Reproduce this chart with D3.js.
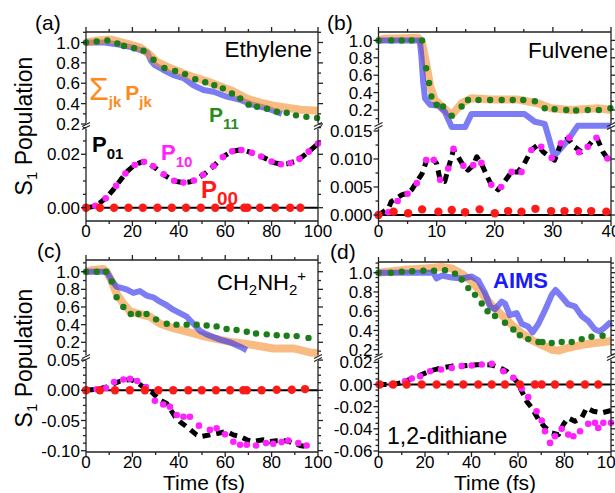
<!DOCTYPE html>
<html><head><meta charset="utf-8">
<script src="https://cdn.jsdelivr.net/npm/d3@7"></script>
<style>body{margin:0;background:#fff}svg{display:block}text{font-family:"Liberation Sans",Arial,Helvetica,sans-serif}</style>
</head><body>
<svg id="c" width="615" height="493"></svg>
<script>
// ---------------- DATA (time fs, population) ----------------
// (a) Ethylene
const ethyleneSum = [[0,1.0],[5,1.02],[10.4,1.03],[17.6,0.99],[23.4,0.95],[27,0.89],[30.5,0.81],[35,0.76],[40.6,0.71],[46.3,0.66],[52.1,0.62],[57.8,0.57],[63.6,0.52],[69.3,0.45],[75.1,0.41],[80.9,0.38],[86.6,0.36],[92.4,0.34],[100,0.33]];
const ethyleneAIMS = [[0,1.0],[8,1.0],[14,0.98],[20.5,0.95],[26.5,0.9],[28,0.82],[29.5,0.78],[33.4,0.73],[37.7,0.68],[42,0.65],[46.3,0.58],[50.6,0.534],[55,0.517],[60.7,0.468],[66.5,0.436],[72.2,0.387],[78,0.354],[84.4,0.30]];
const ethyleneP11 = [[0,1.0],[4.6,1.01],[9.2,1.02],[13.5,0.99],[16.4,0.966],[20.7,0.943],[24.8,0.92],[29.1,0.83],[33.8,0.75],[38.4,0.72],[42.7,0.69],[47.1,0.64],[51.4,0.61],[55.3,0.58],[59,0.55],[62.9,0.5],[66.5,0.45],[70.1,0.39],[73.7,0.37],[78,0.35],[82.3,0.32],[86.5,0.31],[90.5,0.285],[95,0.27],[99.6,0.26]];
const ethyleneP01 = [[0,0],[3,0.0004],[6,0.0018],[9,0.004],[12,0.007],[15,0.0105],[18,0.0138],[21,0.016],[24.5,0.0173],[27,0.0166],[30,0.0148],[33,0.0127],[36,0.011],[39,0.0098],[42,0.0094],[45,0.0097],[48,0.0108],[51,0.0126],[54,0.0148],[57,0.0173],[60,0.0196],[63,0.0211],[66,0.0216],[69,0.0213],[72,0.0204],[75,0.0194],[78,0.0182],[81,0.0169],[84,0.0163],[87,0.0165],[90,0.0173],[93,0.0189],[96,0.021],[100,0.024]];
const ethyleneP10 = [[0,0],[4,0.0007],[8.5,0.0035],[13,0.0082],[17,0.0128],[21,0.016],[25,0.0172],[29,0.0155],[33.5,0.0125],[38,0.0101],[42,0.0094],[46.5,0.0102],[50.5,0.0123],[55,0.0156],[59,0.019],[63,0.0211],[67,0.0216],[71.5,0.0206],[75.5,0.0192],[80,0.0173],[84,0.0163],[88,0.0167],[92,0.0183],[96,0.021],[100,0.024]];
const ethyleneP00 = [[0,0],[6,0],[12.1,0],[18.3,0],[24.5,0],[30.8,0],[37,0],[43.1,0],[49.5,0],[55.7,0],[62.1,0],[68.2,0],[69.6,0],[75,0],[81.5,0],[88,0],[92.4,0]];
// (b) Fulvene
const fulveneSum = [[0,1.0],[1,1.02],[6.8,1.03],[7.5,0.97],[8.3,0.70],[8.9,0.47],[9.7,0.315],[10.9,0.24],[12.6,0.14],[14.3,0.277],[16,0.335],[19.4,0.32],[24,0.32],[27.4,0.277],[29.7,0.22],[33.1,0.2],[37.7,0.22],[40,0.2]];
const fulveneAIMS = [[0,1.0],[7.1,1.0],[7.4,0.8],[7.7,0.51],[8.0,0.335],[8.9,0.26],[10.3,0.25],[11.4,0.18],[12.6,0.0157],[14.9,0.0157],[16.0,0.155],[25.1,0.155],[26.9,0.065],[28.6,0.04],[29.4,0.0134],[30.2,0.0105],[32.6,0.0134],[34.3,0.02],[40,0.02]];
const fulveneP11 = [[0,1.0],[2.2,1.0],[4.0,1.0],[5.7,1.0],[7.5,1.0],[8.2,0.68],[8.7,0.51],[9.1,0.355],[10.0,0.26],[11.1,0.24],[12.6,0.135],[14.3,0.24],[15.4,0.315],[17.2,0.315],[19.2,0.315],[21.2,0.315],[23.1,0.315],[24.9,0.315],[26.9,0.30],[28.6,0.22],[30.3,0.21],[32.3,0.2],[34.0,0.195],[36.0,0.2],[37.9,0.2],[39.9,0.22]];
const fulveneP01 = [[0,0],[1.7,0.0012],[2.2,0.0024],[4.0,0.0036],[5.1,0.0039],[5.7,0.0045],[7.5,0.0074],[8.3,0.0098],[9.1,0.0104],[10.0,0.0092],[10.6,0.0063],[11.4,0.006],[12.0,0.0083],[12.9,0.0116],[13.7,0.0104],[14.6,0.0088],[15.4,0.008],[16.3,0.0089],[16.9,0.0104],[17.7,0.0092],[18.6,0.0071],[19.4,0.0054],[20.6,0.0045],[21.7,0.006],[22.9,0.0077],[24.0,0.0077],[25.1,0.0092],[26.3,0.0116],[27.4,0.0125],[28.3,0.0113],[29.4,0.0104],[30.3,0.0098],[31.4,0.0128],[32.6,0.0137],[33.7,0.0122],[34.9,0.0113],[36.0,0.0122],[36.9,0.0134],[37.7,0.0135],[38.6,0.0113],[39.4,0.0101]];
const fulveneP10 = [[0,0],[1.7,0.0005],[3.3,0.0025],[5.0,0.0038],[6.6,0.0057],[8.2,0.0098],[9.5,0.0098],[10.6,0.0063],[12.0,0.0083],[12.9,0.0118],[14.6,0.0088],[16.3,0.0089],[17.7,0.0093],[19.4,0.0054],[21.1,0.005],[22.9,0.0077],[24.6,0.0077],[26.3,0.0116],[28.0,0.0122],[29.8,0.0102],[31.4,0.0128],[32.8,0.0138],[34.5,0.0112],[36.0,0.0122],[37.5,0.0138],[39.4,0.0101]];
const fulveneP00 = [[0,0],[2.6,0.0006],[5.1,0.0003],[7.5,0.001],[10.3,0.0006],[12.6,0.0009],[14.9,0.0005],[17.4,0.001],[20.0,0.0003],[22.3,0.0007],[24.6,0.0006],[27.0,0.0011],[29.7,0.0007],[32.0,0.0007],[34.3,0.0007],[36.6,0.0007],[39.2,0.0006]];
// (c) CH2NH2+
const methSum = [[0,1.0],[3,1.02],[7.5,1.03],[8.9,1.0],[11.1,0.89],[13.2,0.75],[16.1,0.64],[19,0.55],[23.3,0.52],[27.6,0.49],[31.9,0.41],[37.6,0.36],[43.4,0.32],[49.1,0.28],[54.9,0.245],[63.5,0.2],[72.1,0.17],[80.7,0.13],[89.4,0.13],[96.6,0.085],[100,0.08]];
const methAIMS = [[0,1.0],[8.9,1.0],[11.1,0.9],[13.2,0.83],[17.5,0.8],[20.4,0.76],[23.3,0.78],[26.1,0.73],[29,0.71],[31.9,0.66],[34.8,0.62],[37.6,0.57],[40.5,0.53],[43.4,0.49],[46.3,0.41],[49.1,0.33],[52,0.29],[54.9,0.26],[57.8,0.23],[62.1,0.2],[66.4,0.15],[69.3,0.11]];
const methP11 = [[0,1.0],[4.6,1.0],[8.6,1.0],[11.1,0.89],[13.2,0.71],[16.1,0.6],[19.3,0.52],[22.6,0.52],[26.1,0.52],[30.2,0.46],[34.8,0.41],[39,0.4],[43.4,0.4],[47.7,0.4],[52,0.39],[56.3,0.38],[60.6,0.35],[64.9,0.34],[69.3,0.32],[73.3,0.3],[77.9,0.29],[82.2,0.28],[86.5,0.275],[90.8,0.27],[95.9,0.25]];
const methP01 = [[0,0],[4.6,0.0016],[8.9,0.0055],[12.5,0.012],[14.7,0.015],[19,0.018],[21.8,0.0137],[24.7,0.0055],[28.3,-0.0027],[31.9,-0.0164],[34.8,-0.0219],[38.4,-0.0437],[40.5,-0.0519],[44.8,-0.0645],[47.7,-0.0738],[49.8,-0.0765],[53.4,-0.0738],[57,-0.071],[60.6,-0.0683],[63.5,-0.0738],[66.4,-0.0765],[69.3,-0.082],[72.1,-0.0847],[76.4,-0.082],[79.3,-0.0847],[82.2,-0.0836],[86.5,-0.0836],[89.4,-0.0874],[92.2,-0.0913],[95.1,-0.0934]];
const methP10 = [[0,0],[4.6,0.0016],[8.6,0.0038],[12.1,0.0137],[16.1,0.018],[19,0.0191],[22.1,0.0153],[25.8,0.0055],[29.7,-0.0175],[33.3,-0.0235],[36.2,-0.0273],[39.1,-0.041],[42,-0.0437],[44.8,-0.0437],[48.7,-0.0585],[53.4,-0.0656],[56.3,-0.0628],[59.9,-0.0727],[63.5,-0.0852],[66.4,-0.0902],[69.3,-0.0902],[73.3,-0.0913],[77.6,-0.0874],[80.7,-0.0885],[84.3,-0.0858],[87.2,-0.0831],[91.5,-0.0874],[95.1,-0.0913]];
const methP00 = [[0,0],[6,0],[12.5,0],[18.9,0],[25.4,0],[31.2,0],[37.6,0],[44.1,0],[49.9,0],[56,0],[62.1,0],[67.8,0],[69.3,0],[75.7,0],[82.2,0.001],[88.7,0.001],[94.4,0.002]];
// (d) 1,2-dithiane
const dithSum = [[0,1.0],[11.4,1.03],[20,1.045],[27.2,1.06],[31.5,1.045],[35.8,0.99],[40.1,0.91],[44.4,0.785],[48.7,0.66],[53,0.56],[57.2,0.46],[61.6,0.37],[65.9,0.3],[70.2,0.25],[74.5,0.2],[77.4,0.19],[81.6,0.22],[87.4,0.25],[93.1,0.27],[100,0.29]];
const dithAIMS = [[0,1.0],[23.6,1.0],[25,0.94],[27.2,0.97],[31.5,0.95],[35.8,0.94],[40.1,0.96],[42.9,0.92],[45.8,0.79],[48,0.65],[50.1,0.62],[53,0.7],[54.4,0.68],[56.5,0.56],[59.4,0.58],[61.6,0.47],[64.4,0.44],[66.3,0.38],[68.8,0.47],[71.6,0.61],[74.5,0.77],[76.2,0.82],[78.8,0.75],[81.6,0.67],[84.5,0.65],[87.4,0.55],[90.2,0.5],[93.1,0.41],[95.2,0.39],[97.3,0.43],[100,0.49]];
const dithP11 = [[0,1.0],[5.3,1.0],[10,1.01],[14.5,1.015],[19.3,1.02],[23.9,1.02],[28.6,1.025],[32.9,0.99],[35.8,0.93],[38.6,0.84],[41.5,0.77],[44.4,0.68],[46.9,0.6],[50.1,0.55],[54.4,0.48],[58,0.41],[60.8,0.35],[64.4,0.31],[68.8,0.28],[70.5,0.28],[74.5,0.27],[78.8,0.28],[83.1,0.28],[87.4,0.31],[91.6,0.335],[96.4,0.345]];
const dithP01 = [[0,0],[5.7,0],[10,0.0015],[14.3,0.0054],[18.6,0.009],[22.9,0.0127],[27.2,0.015],[31.5,0.0166],[35.8,0.0166],[40.1,0.0175],[44.4,0.018],[48.7,0.0175],[52.3,0.015],[55.1,0.012],[57.2,0.0075],[59.4,0.003],[61.6,-0.006],[63.7,-0.015],[65.9,-0.021],[68.8,-0.0316],[71.6,-0.0386],[74.5,-0.0437],[77.4,-0.0452],[79.5,-0.0361],[81.6,-0.0301],[84.5,-0.0331],[87.4,-0.0301],[89.5,-0.0211],[92.4,-0.0241],[96,-0.0256],[100,-0.0235]];
const dithP10 = [[0,0],[5.7,0],[11.4,0.003],[14.3,0.0054],[17.9,0.0075],[22.2,0.012],[26.9,0.0136],[31.5,0.015],[35.8,0.0166],[40.1,0.0172],[44.4,0.018],[48.7,0.0187],[53.7,0.012],[58,0.006],[61.6,-0.0036],[64.4,-0.0114],[68,-0.0241],[70.2,-0.0325],[71.6,-0.0422],[73.8,-0.0527],[75.9,-0.0467],[78.8,-0.04],[81.6,-0.0452],[83.8,-0.0467],[86.7,-0.0422],[90.2,-0.0355],[93.1,-0.0346],[94.5,-0.0392],[96.7,-0.0346],[100,-0.0346]];
const dithP00 = [[0.5,0],[6.3,0],[12.1,0],[18.6,0],[25,0],[30.7,0],[36.5,0],[42.9,0],[48.7,0],[54.4,0],[60.8,0],[67.3,0],[70.2,0],[75.9,0],[82.4,0],[88.8,0],[94.5,0]];

const loTicksA = [0, 0.02];
const loTicksB = [0, 0.005, 0.010, 0.015];
const loTicksC = [-0.10, -0.05, 0, 0.05];
const loTicksD = [-0.06, -0.04, -0.02, 0, 0.02];
const hiTicks = [0.2, 0.4, 0.6, 0.8, 1.0];

// ---------------- LAYOUT ----------------
const panels = [
 {x0:86, x1:318, top:32, brk:126, bot:221, xmax:100, xMajor:20, xMinor:10,
  hiA:[1.0,42.5,0.2,124], loA:[0,207.7,0.02,154.3], hiMinor:0.1, loTicks:loTicksA, loMinor:0.005, loFmt:".2f",
  sum:ethyleneSum, aims:ethyleneAIMS, p11:ethyleneP11, p01:ethyleneP01, p10:ethyleneP10, p00:ethyleneP00, orangeTop:true, aimsBoth:false},
 {x0:378.5, x1:611, top:32, brk:126, bot:221, xmax:40, xMajor:10, xMinor:5,
  hiA:[1.0,40.4,0.2,110], loA:[0,215,0.015,131], hiMinor:0.1, loTicks:loTicksB, loMinor:0.0025, loFmt:".3f",
  sum:fulveneSum, aims:fulveneAIMS, p11:fulveneP11, p01:fulveneP01, p10:fulveneP10, p00:fulveneP00, orangeTop:false, aimsBoth:true},
 {x0:86, x1:318, top:260, brk:358, bot:452, xmax:100, xMajor:20, xMinor:10,
  hiA:[1.0,271.7,0.2,342.3], loA:[0,390.3,-0.1,450.7], hiMinor:0.1, loTicks:loTicksC, loMinor:0.0125, loFmt:".2f",
  sum:methSum, aims:methAIMS, p11:methP11, p01:methP01, p10:methP10, p00:methP00, orangeTop:false, aimsBoth:false},
 {x0:378.5, x1:611, top:262, brk:357, bot:452, xmax:100, xMajor:20, xMinor:10,
  hiA:[1.0,272.7,0.2,349.7], loA:[0,384.5,-0.06,451], hiMinor:0.05, loTicks:loTicksD, loMinor:0.005, loFmt:".2f",
  sum:dithSum, aims:dithAIMS, p11:dithP11, p01:dithP01, p10:dithP10, p00:dithP00, orangeTop:false, aimsBoth:false}
];

const C = {orange:"#f39030", blue:"#3535ee", green:"#1d7d1a", magenta:"#ff22ff", red:"#ff1a1a", axis:"#222"};
const loc = d3.formatLocale({decimal:".",thousands:",",grouping:[3],currency:["",""],minus:"-"});
const svg = d3.select("#c");

panels.forEach((p,i) => {
  const g = svg.append("g");
  const x = d3.scaleLinear().domain([0,p.xmax]).range([p.x0,p.x1]);
  const hiLin = d3.scaleLinear().domain([p.hiA[0],p.hiA[2]]).range([p.hiA[1],p.hiA[3]]);
  const loLin = d3.scaleLinear().domain([p.loA[0],p.loA[2]]).range([p.loA[1],p.loA[3]]);
  const hiMin = hiLin.invert(p.brk), hiMax = hiLin.invert(p.top);
  const loMin = loLin.invert(p.bot), loMax = loLin.invert(p.brk);
  const yHi = d3.scaleLinear().domain([hiMin,hiMax]).range([p.brk,p.top]);
  const yLo = d3.scaleLinear().domain([loMin,loMax]).range([p.bot,p.brk]);
  const yBoth = loMax < hiMin ? d3.scaleLinear().domain([loMin,loMax,hiMin,hiMax]).range([p.bot,p.brk,p.brk,p.top]) : yHi;

  const lineHi = d3.line().x(d=>x(d[0])).y(d=>yHi(d[1]));
  const lineLo = d3.line().x(d=>x(d[0])).y(d=>yLo(d[1]));
  const lineBoth = d3.line().x(d=>x(d[0])).y(d=>yBoth(d[1]));

  // upper series
  const drawOrange = () => g.append("path").attr("d", lineHi(p.sum)).attr("fill","none")
      .attr("stroke",C.orange).attr("stroke-opacity",0.6).attr("stroke-width",8).attr("stroke-linejoin","round");
  const drawBlue = () => g.append("path").attr("d", (p.aimsBoth?lineBoth:lineHi)(p.aims)).attr("fill","none")
      .attr("stroke",C.blue).attr("stroke-opacity",0.65).attr("stroke-width",6).attr("stroke-linejoin","round");
  if (p.orangeTop) { drawBlue(); drawOrange(); } else { drawOrange(); drawBlue(); }
  g.selectAll(null).data(p.p11).join("circle").attr("cx",d=>x(d[0])).attr("cy",d=>yHi(d[1])).attr("r",3.2).attr("fill",C.green);

  // lower series
  g.append("line").attr("x1",p.x0).attr("x2",p.x1).attr("y1",yLo(0)).attr("y2",yLo(0)).attr("stroke","#000").attr("stroke-width",2);
  g.append("path").attr("d", lineLo(p.p01)).attr("fill","none").attr("stroke","#000").attr("stroke-width",5)
      .attr("stroke-dasharray","8,6").attr("stroke-linejoin","round");
  g.selectAll(null).data(p.p10).join("circle").attr("cx",d=>x(d[0])).attr("cy",d=>yLo(d[1])).attr("r",3.3).attr("fill",C.magenta);
  g.selectAll(null).data(p.p00).join("circle").attr("cx",d=>x(d[0])).attr("cy",d=>yLo(d[1])).attr("r",4.2).attr("fill",C.red);

  // frame
  const ax = g.append("g").attr("stroke",C.axis).attr("stroke-width",1.3).attr("fill","none");
  const seg = (x1,y1,x2,y2,w) => ax.append("line").attr("x1",x1).attr("y1",y1).attr("x2",x2).attr("y2",y2).attr("stroke-width",w||1.3);
  seg(p.x0,p.top,p.x1,p.top); seg(p.x0,p.bot,p.x1,p.bot);
  [p.x0,p.x1].forEach(xx => { seg(xx,p.top,xx,p.brk-2.5); seg(xx,p.brk+2.5,xx,p.bot);
    seg(xx-4,p.brk+0.5,xx+4,p.brk-3.5,1.2); seg(xx-4,p.brk+3.5,xx+4,p.brk-0.5,1.2); });

  // x ticks
  const xMaj = d3.range(0,p.xmax+1e-9,p.xMajor), xMin = d3.range(0,p.xmax+1e-9,p.xMinor).filter(v=>Math.abs(v/p.xMajor-Math.round(v/p.xMajor))>1e-6);
  xMaj.forEach(v => { seg(x(v),p.bot,x(v),p.bot+5); seg(x(v),p.top,x(v),p.top-5); });
  xMin.forEach(v => { seg(x(v),p.bot,x(v),p.bot+3); seg(x(v),p.top,x(v),p.top-3); });
  g.selectAll(null).data(xMaj).join("text").attr("x",d=>x(d)).attr("y",p.bot+15.5).attr("text-anchor","middle")
    .attr("font-size",17).text(d=>d);

  // y ticks upper
  const isMaj = (v,arr) => arr.some(a=>Math.abs(a-v)<1e-9);
  hiTicks.forEach(v => { seg(p.x0-5,yHi(v),p.x0,yHi(v)); seg(p.x1,yHi(v),p.x1+5,yHi(v)); });
  d3.range(Math.ceil(hiMin/p.hiMinor)*p.hiMinor, hiMax, p.hiMinor).filter(v=>!isMaj(Math.round(v*1e6)/1e6,hiTicks))
    .forEach(v => { seg(p.x0-3,yHi(v),p.x0,yHi(v)); seg(p.x1,yHi(v),p.x1+3,yHi(v)); });
  g.selectAll(null).data(hiTicks).join("text").attr("x",p.x0-6).attr("y",d=>yHi(d)).attr("dy","0.36em")
    .attr("text-anchor","end").attr("font-size",17).text(d=>loc.format(".1f")(d));
  // y ticks lower
  p.loTicks.forEach(v => { seg(p.x0-5,yLo(v),p.x0,yLo(v)); seg(p.x1,yLo(v),p.x1+5,yLo(v)); });
  d3.range(Math.ceil(loMin/p.loMinor)*p.loMinor, loMax, p.loMinor).filter(v=>!isMaj(Math.round(v*1e6)/1e6,p.loTicks))
    .forEach(v => { seg(p.x0-3,yLo(v),p.x0,yLo(v)); seg(p.x1,yLo(v),p.x1+3,yLo(v)); });
  g.selectAll(null).data(p.loTicks).join("text").attr("x",p.x0-6).attr("y",d=>yLo(d)).attr("dy","0.36em")
    .attr("text-anchor","end").attr("font-size",17).text(d=>loc.format(p.loFmt)(d));
});

// ---------------- TEXT ----------------
const T = (x,y,s,opt={}) => { const t = svg.append("text").attr("x",x).attr("y",y).attr("font-size",opt.size||21)
   .attr("fill",opt.fill||"#000").attr("font-weight",opt.bold?"bold":null).attr("text-anchor",opt.anchor||"start"); t.text(s); return t; };
T(35,30,"(a)"); T(327,30,"(b)"); T(37,258,"(c)"); T(330,259,"(d)");
T(312,57,"Ethylene",{size:22.5,anchor:"end"});
T(608,58,"Fulvene",{size:22.5,anchor:"end"});
{ const t = T(217,290,"",{size:22}); t.append("tspan").text("CH"); t.append("tspan").attr("font-size",15).attr("dy",5).text("2");
  t.append("tspan").attr("dy",-5).text("NH"); t.append("tspan").attr("font-size",15).attr("dy",5).text("2");
  t.append("tspan").attr("font-size",15).attr("dy",-14).text("+"); }
T(387,444,"1,2-dithiane",{size:23});
T(493,288,"AIMS",{size:22,bold:true,fill:"#1a1aff"});
// Y labels
[[24,126],[24,358]].forEach(([cx,cy]) => {
  const t = svg.append("text").attr("transform",`translate(${cx+8},${cy}) rotate(-90)`).attr("text-anchor","middle").attr("font-size",23);
  t.append("tspan").text("S"); t.append("tspan").attr("font-size",15).attr("dy",5).text("1");
  t.append("tspan").attr("dy",-5).text(" Population");
});
// x labels
T(204,490,"Time (fs)",{anchor:"middle"}); T(495,490,"Time (fs)",{anchor:"middle"});
// series annotations
const sub = (x,y,main,subs,col,ms,ss) => { const t = svg.append("text").attr("x",x).attr("y",y).attr("fill",col).attr("font-weight","bold").attr("font-size",ms);
  t.append("tspan").text(main); t.append("tspan").attr("font-size",ss).attr("dy",7).text(subs); return t; };
{ const t = svg.append("text").attr("x",89).attr("y",100).attr("fill","#ff8a1c").attr("font-size",32).text("Σ");
  t.append("tspan").attr("font-size",15).attr("font-weight","bold").attr("dy",7).text("jk");
  t.append("tspan").attr("font-size",21).attr("font-weight","bold").attr("dy",-7).attr("dx",4).text("P");
  t.append("tspan").attr("font-size",15).attr("font-weight","bold").attr("dy",7).text("jk"); }
sub(209,122,"P","11","#2a8a1e",21,15);
sub(92,152,"P","01","#000",22,15);
sub(161,160,"P","10","#ff22ff",22,15);
sub(201,198,"P","00","#ff1a1a",24,19);
</script>
</body></html>
